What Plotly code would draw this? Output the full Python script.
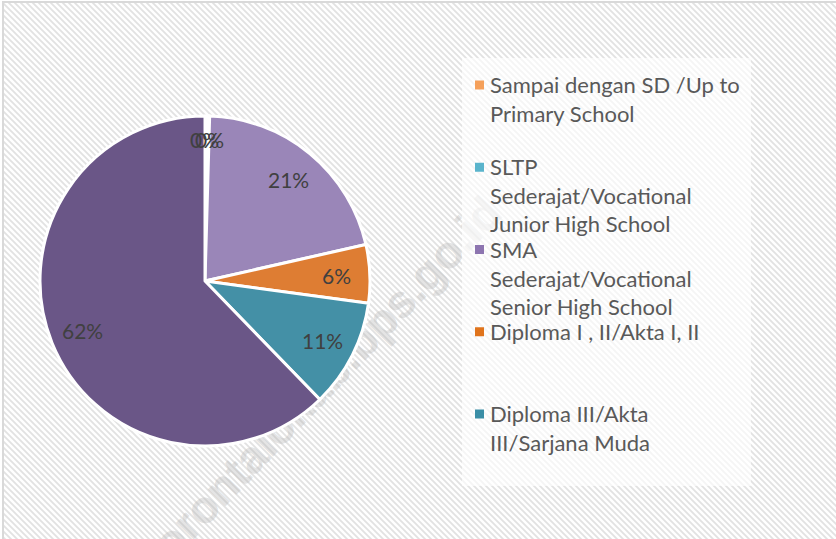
import base64
import math
import plotly.graph_objects as go

W, H = 836, 539

# ---- data ----
categories = [
    "Sampai dengan SD /Up to Primary School",
    "SLTP Sederajat/Vocational Junior High School",
    "SMA Sederajat/Vocational Senior High School",
    "Diploma I , II/Akta I, II",
    "Diploma III/Akta III/Sarjana Muda",
    "Diploma IV/S1/S2/S3",
]
legend_text = [
    "Sampai dengan SD /Up to<br>Primary School",
    "SLTP<br>Sederajat/Vocational<br>Junior High School",
    "SMA<br>Sederajat/Vocational<br>Senior High School",
    "Diploma I , II/Akta I, II",
    "Diploma III/Akta<br>III/Sarjana Muda",
    "Diploma IV/S1/S2/S3",
]
values = [0.25, 0.20, 21.0, 5.7, 10.6, 62.25]
slice_colors = ["#f79646", "#4bacc6", "#9a86b8", "#de7d33", "#4490a6", "#6a5687"]
legend_colors = ["#f5a05a", "#5ab4cc", "#8d75b0", "#e0741c", "#3a8ea6", "#5f497a"]

# ---- layout geometry (pixels) ----
CX, CY, R = 205, 281, 165
px = lambda x: x / W
py = lambda y: 1 - y / H

# background: stripes + frame as an svg image
svg = f'''<svg xmlns="http://www.w3.org/2000/svg" width="{W}" height="{H}" viewBox="0 0 {W} {H}">
<defs><pattern id="p" patternUnits="userSpaceOnUse" width="6" height="6">
<rect width="6" height="6" fill="#ffffff"/>
<path d="M-1,-1 L7,7 M-1,5 L1,7 M5,-1 L7,1" stroke="#e2e2e2" stroke-width="1.8"/>
</pattern></defs>
<rect width="{W}" height="{H}" fill="#ffffff"/>
<rect x="3" y="2" width="{W}" height="{H}" fill="url(#p)" stroke="#d9d9d9" stroke-width="2"/>
</svg>'''
src = "data:image/svg+xml;base64," + base64.b64encode(svg.encode()).decode()

fig = go.Figure()
fig.add_trace(go.Pie(
    labels=categories,
    values=values,
    sort=False,
    direction="clockwise",
    rotation=0,
    marker=dict(colors=slice_colors, line=dict(color="#ffffff", width=3)),
    textinfo="none",
    hoverinfo="label+percent",
    showlegend=False,
    domain=dict(x=[px(CX - R), px(CX + R)], y=[py(CY + R), py(CY - R)]),
))

annotations = []
shapes = []

# watermark (behind pie)
shapes.append(dict(
    type="line", xref="paper", yref="paper", layer="below",
    x0=px(110), y0=py(640), x1=px(560), y1=py(170),
    line=dict(color="rgba(0,0,0,0)", width=1),
    label=dict(text="<b>gorontalokab.bps.go.id</b>", textposition="middle",
               font=dict(family="Liberation Sans", size=46, color="rgba(185,185,185,0.4)")),
))

# legend box (semi-transparent white)
shapes.append(dict(
    type="rect", xref="paper", yref="paper", layer="below",
    x0=px(462), x1=px(751), y0=py(486), y1=py(58),
    fillcolor="rgba(255,255,255,0.65)", line=dict(width=0),
))

# data labels
total = sum(values)
cum = 0.0
for i, v in enumerate(values):
    frac = v / total
    mid = (cum + v / 2) / total * 2 * math.pi
    cum += v
    rr = (0.86 if frac < 0.02 else 0.8) * R
    lx = CX + rr * math.sin(mid)
    ly = CY - rr * math.cos(mid)
    if frac < 0.02:
        lx += (i - 0.5) * 3
    annotations.append(dict(
        x=px(lx), y=py(ly), xref="paper", yref="paper", showarrow=False,
        text=f"{round(frac * 100)}%", xanchor="center", yanchor="middle",
        font=dict(family="Lato", size=21, color="#404040"),
    ))

# legend entries
LEG_Y0, LEG_DY, LEG_BOTTOM = 85, 82.25, 486
for i, (t, c) in enumerate(zip(legend_text, legend_colors)):
    y = LEG_Y0 + i * LEG_DY
    if y > LEG_BOTTOM - 40:
        continue
    shapes.append(dict(
        type="rect", xref="paper", yref="paper",
        x0=px(475), x1=px(484), y0=py(y + 4.5), y1=py(y - 4.5),
        fillcolor=c, line=dict(width=0),
    ))
    annotations.append(dict(
        x=px(488), y=py(y - 16), xref="paper", yref="paper", showarrow=False,
        text=t, xanchor="left", yanchor="top", align="left",
        font=dict(family="Lato", size=22, color="#595959"),
    ))

fig.update_layout(
    width=W, height=H,
    margin=dict(l=0, r=0, t=0, b=0),
    paper_bgcolor="#ffffff",
    images=[dict(source=src, xref="paper", yref="paper", x=0, y=1,
                 sizex=1, sizey=1, xanchor="left", yanchor="top",
                 sizing="stretch", layer="below")],
    shapes=shapes,
    annotations=annotations,
)

fig.write_html("out.html", config={"displayModeBar": False},
               post_script="document.body.style.margin='0px';")
